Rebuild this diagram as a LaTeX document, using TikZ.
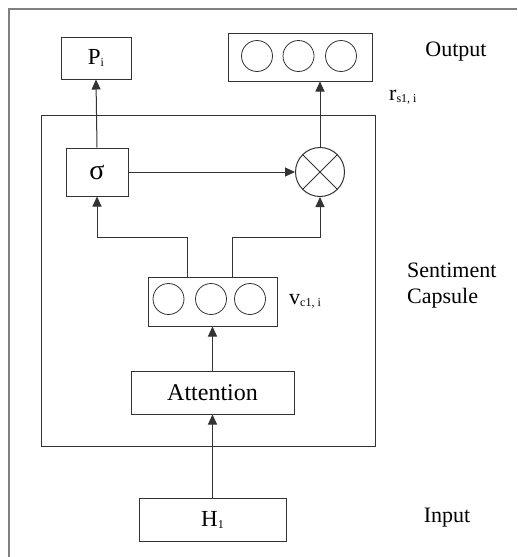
\documentclass[tikz,border=0pt]{standalone}
\usepackage{fontspec}
\setmainfont{Liberation Serif}
\usetikzlibrary{arrows.meta}
\newcommand\sbx[1]{{\fontsize{12}{12}\selectfont\raisebox{-2pt}{#1}}}
\begin{document}
\begin{tikzpicture}[x=1pt,y=-1pt,
  box/.style={draw=black!80,line width=1pt,rectangle,inner sep=0pt},
  dot/.style={draw=black!80,line width=0.8pt,circle,minimum size=31pt,inner sep=0pt},
  lbl/.style={font=\fontsize{22}{24}\selectfont,inner sep=0pt},
  arr/.style={draw=black!80,line width=1pt,-{Triangle[length=10pt,width=9pt]}},
  frame/.style={draw=black!50,line width=1.5pt}]
\useasboundingbox (0,0) rectangle (517,557);
\fill[white] (0,0) rectangle (517,557);
% outer frame (partially visible)
\draw[frame] (9,557) -- (9,9) -- (517,9);
% capsule
\node[box,minimum width=334pt,minimum height=331pt] (caps) at (208,280.5) {};
% top boxes
\node[box,minimum width=70pt,minimum height=42pt,font=\fontsize{23}{24}\selectfont] (pbox) at (96,58) {P\sbx{i}};
\node[box,minimum width=144pt,minimum height=48pt] (obox) at (300,57) {};
\node[dot] (o1) at (257,56) {};
\node[dot] (o2) at (298.5,56) {};
\node[dot] (o3) at (341,56) {};
% sigma and otimes
\node[box,minimum width=62pt,minimum height=48pt,font=\fontsize{28}{28}\selectfont] (sig) at (97,172) {σ};
\node[draw=black!80,line width=1pt,circle,minimum size=49pt,inner sep=0pt] (ox) at (320,172) {};
\draw[draw=black!80,line width=0.8pt] (ox.45) -- (ox.225) (ox.135) -- (ox.315);
% vc box
\node[box,minimum width=129pt,minimum height=49pt] (vc) at (212.5,301.5) {};
\node[dot] (v1) at (168.5,299) {};
\node[dot] (v2) at (211,299) {};
\node[dot] (v3) at (250,299) {};
% attention, input
\node[box,minimum width=163pt,minimum height=43pt,font=\fontsize{24}{26}\selectfont] (att) at (212.5,392.5) {Attention};
\node[box,minimum width=147pt,minimum height=43pt,font=\fontsize{23}{24}\selectfont] (h1) at (212.5,519.5) {H\sbx{1}};
% labels
\node[lbl] (lout) at (456,52) {Output};
\node[lbl,anchor=west] (lr) at (389,97) {r\sbx{s1, i}};
\node[lbl,anchor=west] (lv) at (289,301) {v\sbx{c1, i}};
\node[lbl,anchor=west,align=left,font=\fontsize{22}{26}\selectfont] (lsc) at (407,286) {Sentiment\\Capsule};
\node[lbl] (lin) at (447,518) {Input};
% connectors
\coordinate (vl) at (187,277);
\coordinate (vr) at (232,277);
\draw[arr] (h1.north) -- (att.south);
\draw[arr] (att.north) -- (vc.south);
\draw[arr] (vl) |- (97,237) -- (sig.south);
\draw[arr] (vr) |- (320,237) -- (ox.south);
\draw[arr] (sig.east) -- (ox.west);
\draw[arr] (sig.north) -- (pbox.south);
\draw[arr] (ox.north) -- (obox.south -| ox.north);
\end{tikzpicture}
\end{document}
